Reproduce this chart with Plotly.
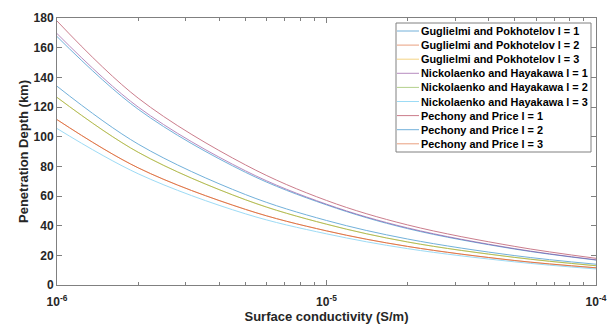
import plotly.graph_objects as go

# Surface conductivity (S/m)
sigma = [1e-6, 2e-6, 5e-6, 1e-5, 2e-5, 5e-5, 1e-4]

# Penetration depth (km)
guglielmi_l1 = [167.5, 118.5, 76.0, 54.0, 38.0, 24.2, 16.8]
guglielmi_l2 = [111.5, 79.0, 51.0, 36.5, 26.0, 16.5, 11.6]
guglielmi_l3 = [126.5, 89.5, 57.5, 41.0, 29.0, 18.6, 13.0]
nickolaenko_l1 = [169.5, 120.0, 77.0, 54.5, 38.5, 24.5, 17.0]
nickolaenko_l2 = [126.5, 89.5, 57.5, 41.0, 29.0, 18.6, 13.0]
nickolaenko_l3 = [105.5, 75.0, 48.0, 34.5, 24.5, 15.6, 10.8]
pechony_l1 = [178.0, 126.0, 81.0, 57.0, 40.5, 26.0, 18.0]
pechony_l2 = [134.0, 95.0, 61.0, 43.5, 31.0, 19.8, 14.0]
pechony_l3 = [111.5, 79.0, 51.0, 36.5, 26.0, 16.5, 11.6]

names = [
    "Guglielmi and Pokhotelov l = 1",
    "Guglielmi and Pokhotelov l = 2",
    "Guglielmi and Pokhotelov l = 3",
    "Nickolaenko and Hayakawa l = 1",
    "Nickolaenko and Hayakawa l = 2",
    "Nickolaenko and Hayakawa l = 3",
    "Pechony and Price l = 1",
    "Pechony and Price l = 2",
    "Pechony and Price l = 3",
]
series = [guglielmi_l1, guglielmi_l2, guglielmi_l3,
          nickolaenko_l1, nickolaenko_l2, nickolaenko_l3,
          pechony_l1, pechony_l2, pechony_l3]

x_tickvals = [1e-6, 1e-5, 1e-4]
x_ticktext = ["10<sup>-6</sup>", "10<sup>-5</sup>", "10<sup>-4</sup>"]
minor_vals = [m * 10.0 ** e for e in (-6, -5) for m in range(2, 10)]

colors = ["#0072BD", "#D95319", "#EDB120", "#7E2F8E", "#77AC30",
          "#4DBEEE", "#A2142F", "#0072BD", "#D95319"]

FONT = "Liberation Sans, Arial, sans-serif"
AXC = "#808080"
TXT = "#262626"
OPA = 0.55

fig = go.Figure()
for name, ys, c in zip(names, series, colors):
    fig.add_trace(go.Scatter(
        x=sigma, y=ys, name=name, mode="lines",
        line=dict(color=c, width=1, shape="spline", smoothing=1.0),
        opacity=OPA, showlegend=False,
    ))

# Legend drawn in paper coordinates (MATLAB style compact legend)
L, T, B = 57, 18, 285
PW, PH = 539, 267
def px(x):
    return (x - L) / PW
def py(y):
    return (B - y) / PH

shapes = [dict(type="rect", xref="paper", yref="paper",
               x0=px(396), x1=px(591), y0=py(152), y1=py(23),
               line=dict(color=AXC, width=1), fillcolor="white", layer="above")]
annotations = []
for i, (name, c) in enumerate(zip(names, colors)):
    yy = 31 + 14.1 * i
    shapes.append(dict(type="line", xref="paper", yref="paper",
                       x0=px(397), x1=px(419), y0=py(yy), y1=py(yy),
                       line=dict(color=c, width=1), opacity=OPA, layer="above"))
    annotations.append(dict(xref="paper", yref="paper", x=px(419.5), y=py(yy),
                            xanchor="left", yanchor="middle", showarrow=False,
                            text=name, borderpad=0,
                            font=dict(family=FONT, size=10.9, color="#000000", weight="bold")))

fig.update_layout(
    width=610, height=327,
    margin=dict(l=L, r=610 - 596, t=T, b=327 - B, autoexpand=False),
    paper_bgcolor="white", plot_bgcolor="white",
    font=dict(family=FONT, color=TXT),
    shapes=shapes, annotations=annotations,
    showlegend=False,
)
fig.update_xaxes(
    type="log", range=[-6, -4], automargin=False,
    tickmode="array", tickvals=x_tickvals, ticktext=x_ticktext,
    ticks="inside", ticklen=5, tickcolor=AXC, tickwidth=1,
    minor=dict(tickmode="array", tickvals=minor_vals, ticks="inside",
               ticklen=3, tickcolor=AXC, showgrid=False),
    showline=True, linecolor=AXC, linewidth=1, mirror="allticks",
    showgrid=False, zeroline=False,
    tickfont=dict(family=FONT, size=12, color=TXT, weight="bold"),
    ticklabelstandoff=6,
    title=dict(text="Surface conductivity (S/m)", standoff=0,
               font=dict(family=FONT, size=13, color=TXT, weight="bold")),
)
fig.update_yaxes(
    range=[0, 180], tickmode="linear", tick0=0, dtick=20, automargin=False,
    ticks="inside", ticklen=5, tickcolor=AXC, tickwidth=1,
    showline=True, linecolor=AXC, linewidth=1, mirror="allticks",
    showgrid=False, zeroline=False,
    tickfont=dict(family=FONT, size=12, color=TXT, weight="bold"),
    title=dict(text="Penetration Depth (km)", standoff=2,
               font=dict(family=FONT, size=13, color=TXT, weight="bold")),
)

fig.write_html("out.html", config={"displayModeBar": False},
               post_script="document.body.style.margin='0';document.body.style.padding='0';")
